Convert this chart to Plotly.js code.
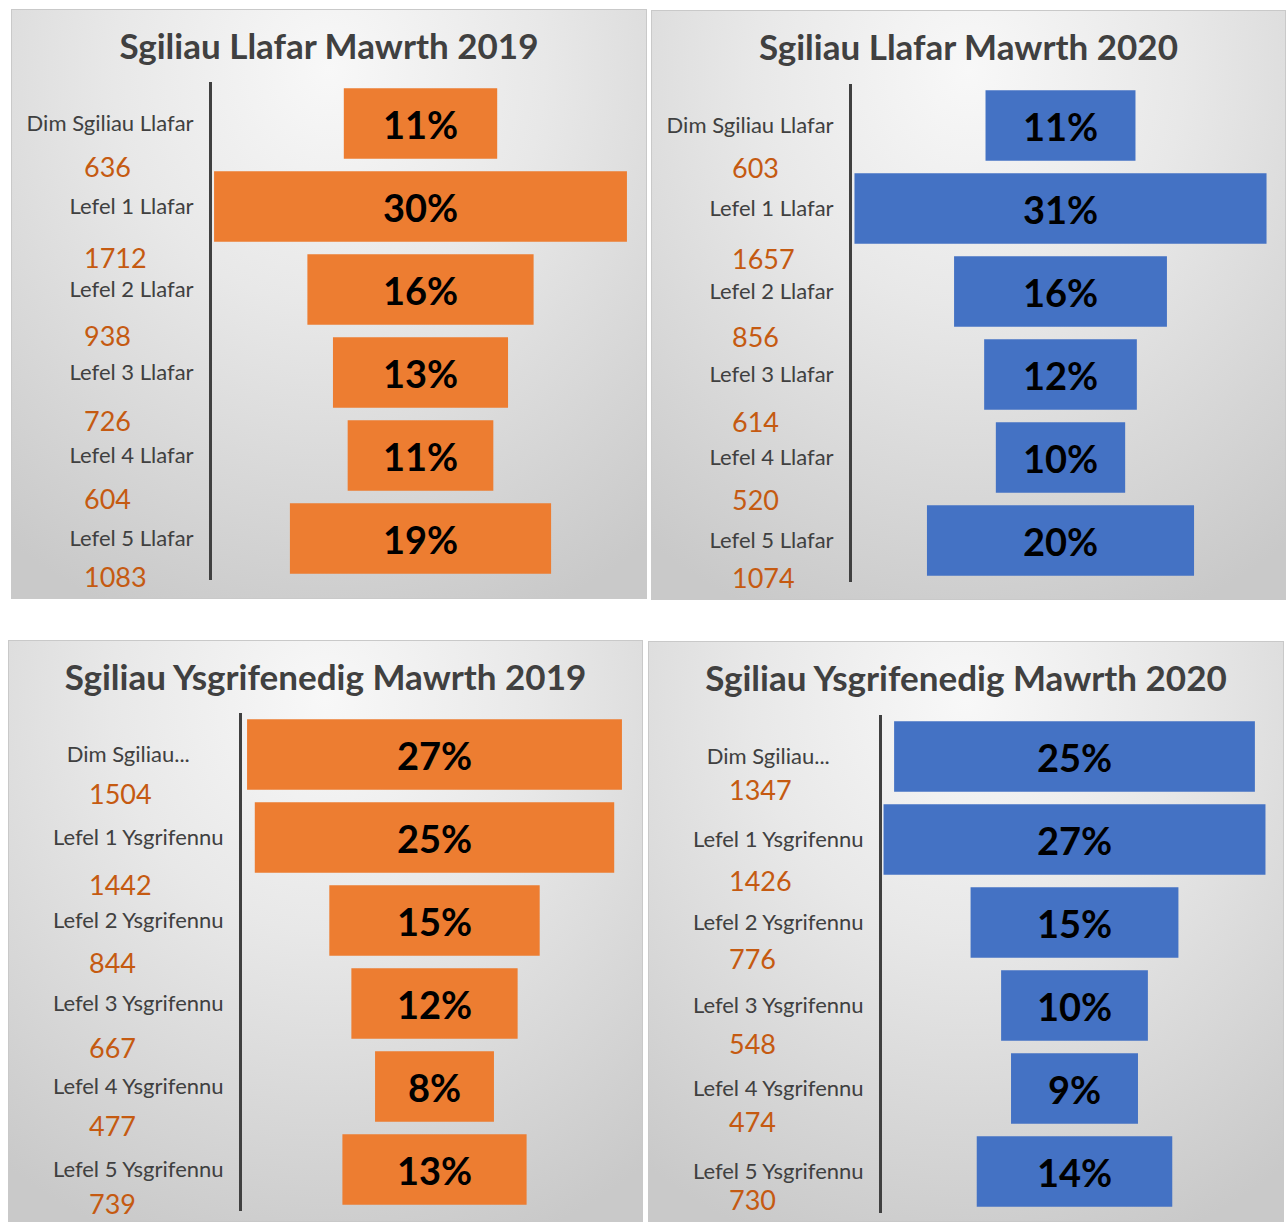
<!DOCTYPE html>
<html>
<head>
<meta charset="utf-8">
<script src="https://cdn.plot.ly/plotly-3.0.1.min.js"></script>
<style>
  html, body { margin: 0; padding: 0; background: #ffffff; }
  body { width: 1288px; height: 1223px; position: relative; overflow: hidden; }
  .panel {
    position: absolute;
    box-sizing: border-box;
    border: 1px solid #c9c9c9;
    background: radial-gradient(ellipse 85% 100% at 50% 10%, #f8f8f8 0%, #e8e8e8 40%, #c9c9c9 100%);
  }
</style>
</head>
<body>
<div id="p1" class="panel" style="left:11px; top:9px; width:636px; height:590px;"></div>
<div id="p2" class="panel" style="left:651px; top:10px; width:635px; height:590px;"></div>
<div id="p3" class="panel" style="left:8px; top:640px; width:635px; height:582px;"></div>
<div id="p4" class="panel" style="left:648px; top:641px; width:636px; height:581px;"></div>
<script>
// ---- data ----
const catsLlafar = ["Dim Sgiliau Llafar", "Lefel 1 Llafar", "Lefel 2 Llafar", "Lefel 3 Llafar", "Lefel 4 Llafar", "Lefel 5 Llafar"];
const catsYsgrif = ["Dim Sgiliau...", "Lefel 1 Ysgrifennu", "Lefel 2 Ysgrifennu", "Lefel 3 Ysgrifennu", "Lefel 4 Ysgrifennu", "Lefel 5 Ysgrifennu"];
const llafar2019 = [636, 1712, 938, 726, 604, 1083];
const llafar2020 = [603, 1657, 856, 614, 520, 1074];
const ysgrif2019 = [1504, 1442, 844, 667, 477, 739];
const ysgrif2020 = [1347, 1426, 776, 548, 474, 730];
const titles = ["Sgiliau Llafar Mawrth 2019", "Sgiliau Llafar Mawrth 2020",
                "Sgiliau Ysgrifenedig Mawrth 2019", "Sgiliau Ysgrifenedig Mawrth 2020"];

// ---- styling / layout config ----
const ORANGE = "#ED7D31", BLUE = "#4472C4", NUMCOL = "#C55A11", GREY = "#404040";
const FONT = "Lato, 'Open Sans', sans-serif";
const NUM_SHIFT_PATTERN = [0, 8, 3, 5, 0, -5];   // hand-placed count labels in the original

const panels = [
  {id: "p1", cats: catsLlafar, vals: llafar2019, color: ORANGE, title: titles[0], w: 636, h: 590, l: 201, r: 18, t: 73, b: 19, numLeft: 71, numBase: 43, pad: 1.01, firstPad: 0},
  {id: "p2", cats: catsLlafar, vals: llafar2020, color: BLUE,   title: titles[1], w: 635, h: 590, l: 201, r: 17, t: 74, b: 18, numLeft: 79, numBase: 41.5, pad: 1.012, firstPad: 0},
  {id: "p3", cats: catsYsgrif, vals: ysgrif2019, color: ORANGE, title: titles[2], w: 635, h: 582, l: 234, r: 16, t: 73, b: 11, numLeft: 79, numBase: 39, pad: 1.027, firstPad: 6},
  {id: "p4", cats: catsYsgrif, vals: ysgrif2020, color: BLUE,   title: titles[3], w: 636, h: 581, l: 234, r: 17, t: 74, b: 9,  numLeft: 79, numBase: 32.5, pad: 1.008, firstPad: 6}
];

panels.forEach(p => {
  const maxV = Math.max(...p.vals);
  const half = maxV / 2 * p.pad;
  const plotW = p.w - p.l - p.r;
  const trace = {
    type: "funnel",
    y: p.cats,
    x: p.vals,
    marker: {color: p.color, line: {width: 0}},
    connector: {visible: false},
    texttemplate: "%{percentTotal:.0%}",
    textposition: "inside",
    insidetextanchor: "middle",
    constraintext: "none",
    textfont: {family: FONT, size: 38, color: "#000000", weight: 700},
    hoverinfo: "none"
  };
  const annotations = p.vals.map((v, i) => ({
    xref: "paper", yref: "y",
    x: (p.numLeft - p.l) / plotW, y: i,
    xanchor: "left", yanchor: "middle",
    yshift: -(p.numBase + NUM_SHIFT_PATTERN[i]),
    text: String(v),
    showarrow: false,
    font: {family: FONT, size: 27, color: NUMCOL}
  }));
  const ticktext = p.cats.map((c, i) => i === 0 && p.firstPad ? c + "\u00a0".repeat(p.firstPad) : c);
  const layout = {
    width: p.w - 2, height: p.h - 2,
    margin: {l: p.l - 1, r: p.r - 1, t: p.t - 1, b: p.b - 1},
    paper_bgcolor: "rgba(0,0,0,0)",
    plot_bgcolor: "rgba(0,0,0,0)",
    funnelgap: 0.15,
    showlegend: false,
    title: {
      text: "<b>" + p.title + "</b>",
      x: 0.5, xref: "container", xanchor: "center",
      y: 1 - 37 / p.h, yref: "container", yanchor: "middle",
      font: {family: FONT, size: 35, color: GREY}
    },
    xaxis: {visible: false, range: [-half, half], fixedrange: true},
    yaxis: {
      type: "category",
      range: [p.cats.length - 0.5, -0.5],
      tickmode: "array", tickvals: p.cats, ticktext: ticktext,
      showline: true, linecolor: GREY, linewidth: 3,
      showgrid: false, zeroline: false, ticks: "",
      ticklabelstandoff: 11,
      tickfont: {family: FONT, size: 22, color: GREY},
      fixedrange: true
    },
    annotations: annotations
  };
  Plotly.newPlot(p.id, [trace], layout, {displayModeBar: false, staticPlot: true});
});
</script>
</body>
</html>
